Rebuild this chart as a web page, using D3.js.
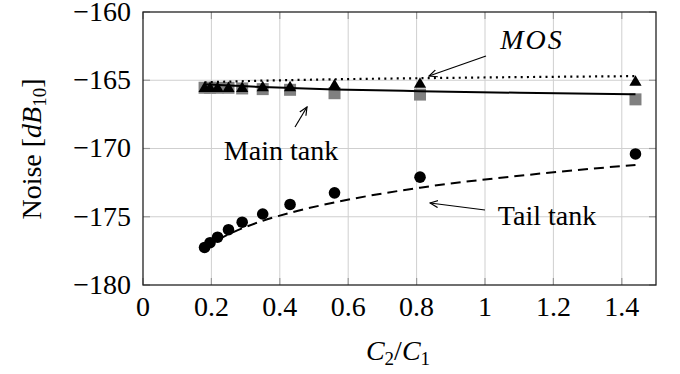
<!DOCTYPE html>
<html>
<head>
<meta charset="utf-8">
<script src="https://cdn.jsdelivr.net/npm/d3@7/dist/d3.min.js"></script>
<style>
  body{margin:0;background:#fff;}
</style>
</head>
<body>
<svg id="chart" width="680" height="374" font-family="'Liberation Serif', 'Times New Roman', 'DejaVu Serif', serif"></svg>
<script>
// measured points
var ratio    = [0.18, 0.196, 0.218, 0.25, 0.29, 0.35, 0.43, 0.56, 0.81, 1.44];
var tailTank = [-177.25, -176.9, -176.5, -175.95, -175.4, -174.8, -174.1, -173.25, -172.1, -170.4];
var mainTank = [-165.55, -165.55, -165.55, -165.55, -165.6, -165.65, -165.7, -165.95, -166.05, -166.4];
var mos      = [-165.6, -165.6, -165.6, -165.6, -165.6, -165.55, -165.55, -165.4, -165.3, -165.15];

// fitted curves
var fitX    = [0.18, 0.25, 0.35, 0.43, 0.56, 0.81, 1.1, 1.44];
var tailFit = [-177.25, -176.29, -175.3, -174.71, -173.95, -172.87, -172.0, -171.2];
var mainFit = [-165.3, -165.38, -165.5, -165.57, -165.67, -165.8, -165.92, -166.02];
var mosFit  = [-165.15, -165.1, -165.03, -164.99, -164.93, -164.85, -164.77, -164.7];

var xTicks = [0, 0.2, 0.4, 0.6, 0.8, 1, 1.2, 1.4];
var yTicks = [-180, -175, -170, -165, -160];

var svg = d3.select("#chart");
var L = 143, R = 656, T = 12, B = 285;
var FS = "28px", SUB = "19px";

var x = d3.scaleLinear().domain([0, 1.5]).range([L, R]);
var y = d3.scaleLinear().domain([-180, -160]).range([B, T]);

// grid
svg.append("g").selectAll("line")
  .data(xTicks.filter(function(d){return d > 0;}))
  .enter().append("line")
    .attr("x1", function(d){return x(d);}).attr("x2", function(d){return x(d);})
    .attr("y1", T).attr("y2", B)
    .attr("stroke", "#cfcfcf").attr("stroke-width", 1);
svg.append("g").selectAll("line")
  .data(yTicks.filter(function(d){return d > -180 && d < -160;}))
  .enter().append("line")
    .attr("x1", L).attr("x2", R)
    .attr("y1", function(d){return y(d);}).attr("y2", function(d){return y(d);})
    .attr("stroke", "#cfcfcf").attr("stroke-width", 1);

// inward ticks, all four sides
var tk = svg.append("g").attr("stroke", "#9a9a9a").attr("stroke-width", 1.2);
xTicks.forEach(function(d){
  tk.append("line").attr("x1", x(d)).attr("x2", x(d)).attr("y1", B).attr("y2", B - 7);
  tk.append("line").attr("x1", x(d)).attr("x2", x(d)).attr("y1", T).attr("y2", T + 7);
});
yTicks.forEach(function(d){
  tk.append("line").attr("x1", L).attr("x2", L + 7).attr("y1", y(d)).attr("y2", y(d));
  tk.append("line").attr("x1", R).attr("x2", R - 7).attr("y1", y(d)).attr("y2", y(d));
});

// tick labels
svg.append("g").selectAll("text")
  .data(xTicks).enter().append("text")
    .attr("x", function(d){return x(d);})
    .attr("y", 316)
    .attr("text-anchor", "middle")
    .attr("font-size", FS)
    .text(function(d){return d3.format("")(d);});
svg.append("g").selectAll("text")
  .data(yTicks).enter().append("text")
    .attr("x", 131)
    .attr("y", function(d){return y(d);})
    .attr("dy", "0.32em")
    .attr("text-anchor", "end")
    .attr("font-size", FS)
    .text(function(d){return "\u2212" + Math.abs(d);});

// axis titles
var yl = svg.append("text")
  .attr("transform", "translate(41,149) rotate(-90)")
  .attr("text-anchor", "middle")
  .attr("font-size", FS);
yl.append("tspan").text("Noise [");
yl.append("tspan").attr("font-style", "italic").text("dB");
yl.append("tspan").attr("font-size", SUB).attr("dy", 5).text("10");
yl.append("tspan").attr("dy", -5).text("]");

var xl = svg.append("text")
  .attr("x", 398).attr("y", 360)
  .attr("text-anchor", "middle")
  .attr("font-size", FS);
xl.append("tspan").attr("font-style", "italic").text("C");
xl.append("tspan").attr("font-size", SUB).attr("dy", 5).text("2");
xl.append("tspan").attr("dy", -5).text("/");
xl.append("tspan").attr("font-style", "italic").text("C");
xl.append("tspan").attr("font-size", SUB).attr("dy", 5).text("1");

// markers
svg.append("g").selectAll("rect")
  .data(ratio).enter().append("rect")
    .attr("x", function(d){return x(d) - 6;})
    .attr("y", function(d, i){return y(mainTank[i]) - 6;})
    .attr("width", 12).attr("height", 12)
    .attr("fill", "#808080");

svg.append("g").selectAll("circle")
  .data(ratio).enter().append("circle")
    .attr("cx", function(d){return x(d);})
    .attr("cy", function(d, i){return y(tailTank[i]);})
    .attr("r", 5.8)
    .attr("fill", "#000");

// fit lines
function fitLine(vals){
  return d3.line()
    .x(function(d){return x(d);})
    .y(function(d, i){return y(vals[i]);})
    .curve(d3.curveMonotoneX)(fitX);
}
svg.append("path").attr("d", fitLine(mainFit))
  .attr("fill", "none").attr("stroke", "#000").attr("stroke-width", 2);
svg.append("path").attr("d", fitLine(tailFit))
  .attr("fill", "none").attr("stroke", "#000").attr("stroke-width", 2)
  .attr("stroke-dasharray", "10,6");
svg.append("path").attr("d", fitLine(mosFit))
  .attr("fill", "none").attr("stroke", "#000").attr("stroke-width", 2.2)
  .attr("stroke-dasharray", "2,4.2");

svg.append("g").selectAll("path")
  .data(ratio).enter().append("path")
    .attr("transform", function(d, i){return "translate(" + x(d) + "," + y(mos[i]) + ")";})
    .attr("d", "M0,-7L6.1,3.5L-6.1,3.5Z")
    .attr("fill", "#000");

// frame
svg.append("rect")
  .attr("x", L).attr("y", T).attr("width", R - L).attr("height", B - T)
  .attr("fill", "none").attr("stroke", "#222").attr("stroke-width", 1.3);

// annotations
var defs = svg.append("defs");
defs.append("marker")
  .attr("id", "arr").attr("viewBox", "0 0 10 10")
  .attr("refX", 9).attr("refY", 5)
  .attr("markerWidth", 9).attr("markerHeight", 9)
  .attr("markerUnits", "userSpaceOnUse")
  .attr("orient", "auto")
  .append("path").attr("d", "M0,1L9,5L0,9")
  .attr("fill", "none").attr("stroke", "#000").attr("stroke-width", 1.3);

function arrow(x1, y1, x2, y2){
  svg.append("line")
    .attr("x1", x1).attr("y1", y1).attr("x2", x2).attr("y2", y2)
    .attr("stroke", "#000").attr("stroke-width", 1.2)
    .attr("marker-end", "url(#arr)");
}
arrow(486, 56, 429, 76);
arrow(295, 127, 307, 107);
arrow(485, 210, 430, 203);

svg.append("text")
  .attr("x", 532).attr("y", 49)
  .attr("text-anchor", "middle")
  .attr("font-size", FS).attr("font-style", "italic")
  .attr("letter-spacing", "2px")
  .text("MOS");
svg.append("text")
  .attr("x", 281).attr("y", 160)
  .attr("text-anchor", "middle")
  .attr("font-size", FS)
  .text("Main tank");
svg.append("text")
  .attr("x", 547).attr("y", 225)
  .attr("text-anchor", "middle")
  .attr("font-size", FS)
  .text("Tail tank");
</script>
</body>
</html>
